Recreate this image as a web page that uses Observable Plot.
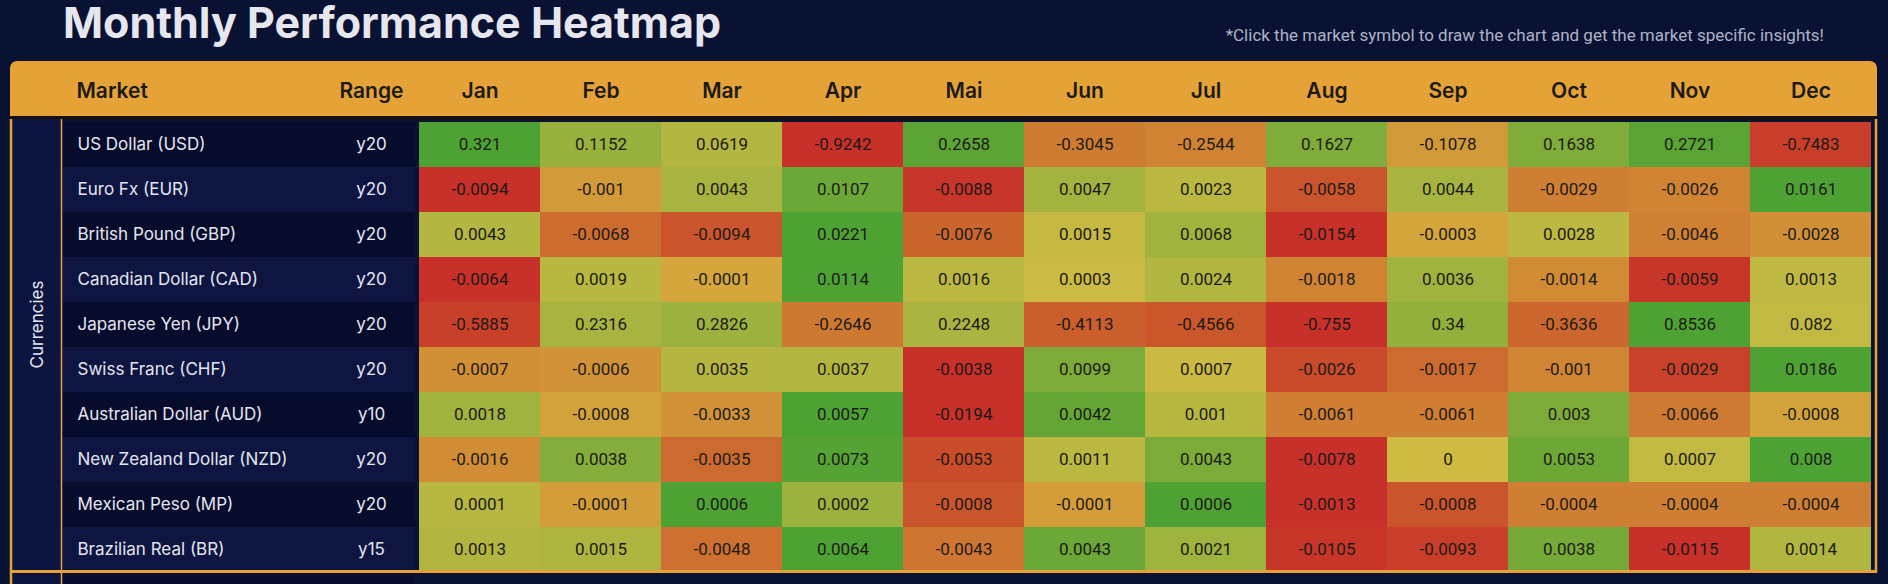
<!DOCTYPE html>
<html>
<head>
<meta charset="utf-8">
<script src="https://cdn.jsdelivr.net/npm/d3@7"></script>
<script src="https://cdn.jsdelivr.net/npm/@observablehq/plot@0.6"></script>
<style>
  html, body { margin: 0; padding: 0; background: #0a1233; width: 1888px; height: 584px; overflow: hidden; }
  #head { position: relative; height: 61px; }
  #title { position: absolute; left: 63px; top: 1px; font: 700 43px/43px Inter, sans-serif; color: #e6e7ee; white-space: nowrap; }
  #note { position: absolute; right: 64px; top: 27px; font: 400 17px/17px Roboto, sans-serif; color: #aeb3c4; white-space: nowrap; }
  #chart svg { display: block; }
</style>
</head>
<body>
<div id="head">
  <div id="title">Monthly Performance Heatmap</div>
  <div id="note">*Click the market symbol to draw the chart and get the market specific insights!</div>
</div>
<div id="chart"></div>
<script>
// Column and row labels
const months = ["Jan", "Feb", "Mar", "Apr", "Mai", "Jun", "Jul", "Aug", "Sep", "Oct", "Nov", "Dec"];
const groupName = "Currencies";
const markets = [
  "US Dollar (USD)", "Euro Fx (EUR)", "British Pound (GBP)", "Canadian Dollar (CAD)",
  "Japanese Yen (JPY)", "Swiss Franc (CHF)", "Australian Dollar (AUD)",
  "New Zealand Dollar (NZD)", "Mexican Peso (MP)", "Brazilian Real (BR)"
];
const ranges = ["y20", "y20", "y20", "y20", "y20", "y20", "y10", "y20", "y20", "y15"];

// Average monthly performance per market, Jan..Dec
const usd = [0.321, 0.1152, 0.0619, -0.9242, 0.2658, -0.3045, -0.2544, 0.1627, -0.1078, 0.1638, 0.2721, -0.7483];
const eur = [-0.0094, -0.001, 0.0043, 0.0107, -0.0088, 0.0047, 0.0023, -0.0058, 0.0044, -0.0029, -0.0026, 0.0161];
const gbp = [0.0043, -0.0068, -0.0094, 0.0221, -0.0076, 0.0015, 0.0068, -0.0154, -0.0003, 0.0028, -0.0046, -0.0028];
const cad = [-0.0064, 0.0019, -0.0001, 0.0114, 0.0016, 0.0003, 0.0024, -0.0018, 0.0036, -0.0014, -0.0059, 0.0013];
const jpy = [-0.5885, 0.2316, 0.2826, -0.2646, 0.2248, -0.4113, -0.4566, -0.755, 0.34, -0.3636, 0.8536, 0.082];
const chf = [-0.0007, -0.0006, 0.0035, 0.0037, -0.0038, 0.0099, 0.0007, -0.0026, -0.0017, -0.001, -0.0029, 0.0186];
const aud = [0.0018, -0.0008, -0.0033, 0.0057, -0.0194, 0.0042, 0.001, -0.0061, -0.0061, 0.003, -0.0066, -0.0008];
const nzd = [-0.0016, 0.0038, -0.0035, 0.0073, -0.0053, 0.0011, 0.0043, -0.0078, 0, 0.0053, 0.0007, 0.008];
const mxp = [0.0001, -0.0001, 0.0006, 0.0002, -0.0008, -0.0001, 0.0006, -0.0013, -0.0008, -0.0004, -0.0004, -0.0004];
const brl = [0.0013, 0.0015, -0.0048, 0.0064, -0.0043, 0.0043, 0.0021, -0.0105, -0.0093, 0.0038, -0.0115, 0.0014];
const series = [usd, eur, gbp, cad, jpy, chf, aud, nzd, mxp, brl];

// Each row is coloured on its own: losses scaled by the row's worst month,
// gains by the row's best month, giving a score in [-1, 1].
const cells = [];
series.forEach((vals, i) => {
  const lo = d3.min(vals), hi = d3.max(vals);
  vals.forEach((v, j) => {
    const score = v < 0 ? v / Math.abs(lo) : (hi > 0 ? v / hi : 0);
    cells.push({market: markets[i], month: months[j], value: v, score});
  });
});
const rows = markets.map((m, i) => ({market: m, range: ranges[i]}));

const C = {
  header: "#e5a337", rule: "#15120d", border: "#e6a23a",
  rowDark: "#080c2c", rowLight: "#0e1541", group: "#0d1440",
  ink: "#1c1a17", light: "#e4e6ef"
};

// Table chrome behind the heatmap: header band, striped label rows, group cell
function tableBack(index, scales, values, dims) {
  const y = scales.y;
  const step = y(markets[1]) - y(markets[0]);
  const top = dims.marginTop, bottom = top + step * markets.length;
  const right = dims.width - dims.marginRight;
  const g = d3.create("svg:g");
  g.append("rect").attr("x", 10).attr("y", 0).attr("width", right + 2 - 10).attr("height", 30).attr("rx", 7).attr("fill", C.header);
  g.append("rect").attr("x", 10).attr("y", 15).attr("width", right + 2 - 10).attr("height", 41).attr("fill", C.header);
  g.append("rect").attr("x", 10).attr("y", 55).attr("width", right + 2 - 10).attr("height", 3.5).attr("fill", C.rule);
  markets.forEach((m, i) => {
    g.append("rect").attr("x", 62).attr("y", y(m)).attr("width", dims.marginLeft - 62).attr("height", step)
      .attr("fill", i % 2 ? C.rowLight : C.rowDark);
  });
  g.append("rect").attr("x", 12).attr("y", top - 1).attr("width", 50).attr("height", bottom - top + 1).attr("fill", C.group);
  // start of the next group below
  g.append("rect").attr("x", 12).attr("y", bottom + 3).attr("width", 50).attr("height", dims.height - bottom).attr("fill", C.group);
  g.append("rect").attr("x", 62).attr("y", bottom + 3).attr("width", dims.marginLeft - 62).attr("height", dims.height - bottom).attr("fill", C.rowDark);
  return g.node();
}

// Orange group outline drawn over the cells
function tableFront(index, scales, values, dims) {
  const y = scales.y;
  const step = y(markets[1]) - y(markets[0]);
  const top = dims.marginTop, bottom = top + step * markets.length;
  const right = dims.width - dims.marginRight;
  const g = d3.create("svg:g").attr("fill", "none").attr("stroke", C.border);
  g.append("line").attr("x1", 11).attr("x2", 11).attr("y1", top - 1).attr("y2", dims.height).attr("stroke-width", 2.5);
  g.append("line").attr("x1", 61.5).attr("x2", 61.5).attr("y1", top - 1).attr("y2", dims.height).attr("stroke-width", 1.5);
  g.append("line").attr("x1", right + 1).attr("x2", right + 1).attr("y1", top - 1).attr("y2", bottom + 3).attr("stroke-width", 2.5);
  g.append("line").attr("x1", 10).attr("x2", right + 2).attr("y1", bottom + 1.5).attr("y2", bottom + 1.5).attr("stroke-width", 3);
  const mid = y(markets[4]) + step / 2;
  g.append("text").attr("transform", `translate(37,${mid}) rotate(-90)`)
    .attr("text-anchor", "middle").attr("dominant-baseline", "central")
    .attr("fill", C.light).attr("stroke", "none")
    .style("font", "400 17px Inter, sans-serif").text(groupName);
  return g.node();
}

const labelShift = -415; // offsets measured from the heatmap's left edge
const headerText = {frameAnchor: "top", lineAnchor: "middle", dy: -29, fill: C.ink,
  fontSize: 21, fontWeight: 600, fontFamily: "Inter, sans-serif"};

const chart = Plot.plot({
  width: 1888,
  height: 523,
  marginTop: 59,
  marginBottom: 11,
  marginLeft: 415,
  marginRight: 13,
  style: {background: "transparent", overflow: "visible"},
  x: {domain: months, padding: 0, axis: null},
  y: {domain: markets, padding: 0, axis: null},
  color: {
    type: "linear",
    domain: [-1, -0.75, -0.5, -0.25, -1e-6, 0, 0.25, 0.5, 0.75, 1],
    range: ["#c8302a", "#c8422a", "#cb642e", "#d08734", "#d4a83c", "#cfbb43", "#abb540", "#80ac3a", "#62a636", "#4ea234"]
  },
  marks: [
    tableBack,
    Plot.cell(cells, {x: "month", y: "market", fill: "score"}),
    Plot.text(cells, {x: "month", y: "market", text: d => String(d.value), fill: C.ink,
      fontSize: 17, fontFamily: "Roboto, sans-serif"}),
    Plot.text(rows, {y: "market", text: "market", frameAnchor: "left", textAnchor: "start",
      dx: labelShift + 77, fill: C.light, fontSize: 17, fontFamily: "Inter, sans-serif"}),
    Plot.text(rows, {y: "market", text: "range", frameAnchor: "left", textAnchor: "middle",
      dx: labelShift + 371, fill: C.light, fontSize: 17, fontFamily: "Inter, sans-serif"}),
    Plot.text(months, {...headerText, x: d => d, text: d => d}),
    Plot.text(["Market"], {...headerText, frameAnchor: "top-left", text: d => d, textAnchor: "start", dx: labelShift + 76}),
    Plot.text(["Range"], {...headerText, frameAnchor: "top-left", text: d => d, textAnchor: "middle", dx: labelShift + 371}),
    tableFront
  ]
});
document.getElementById("chart").append(chart);
</script>
</body>
</html>
